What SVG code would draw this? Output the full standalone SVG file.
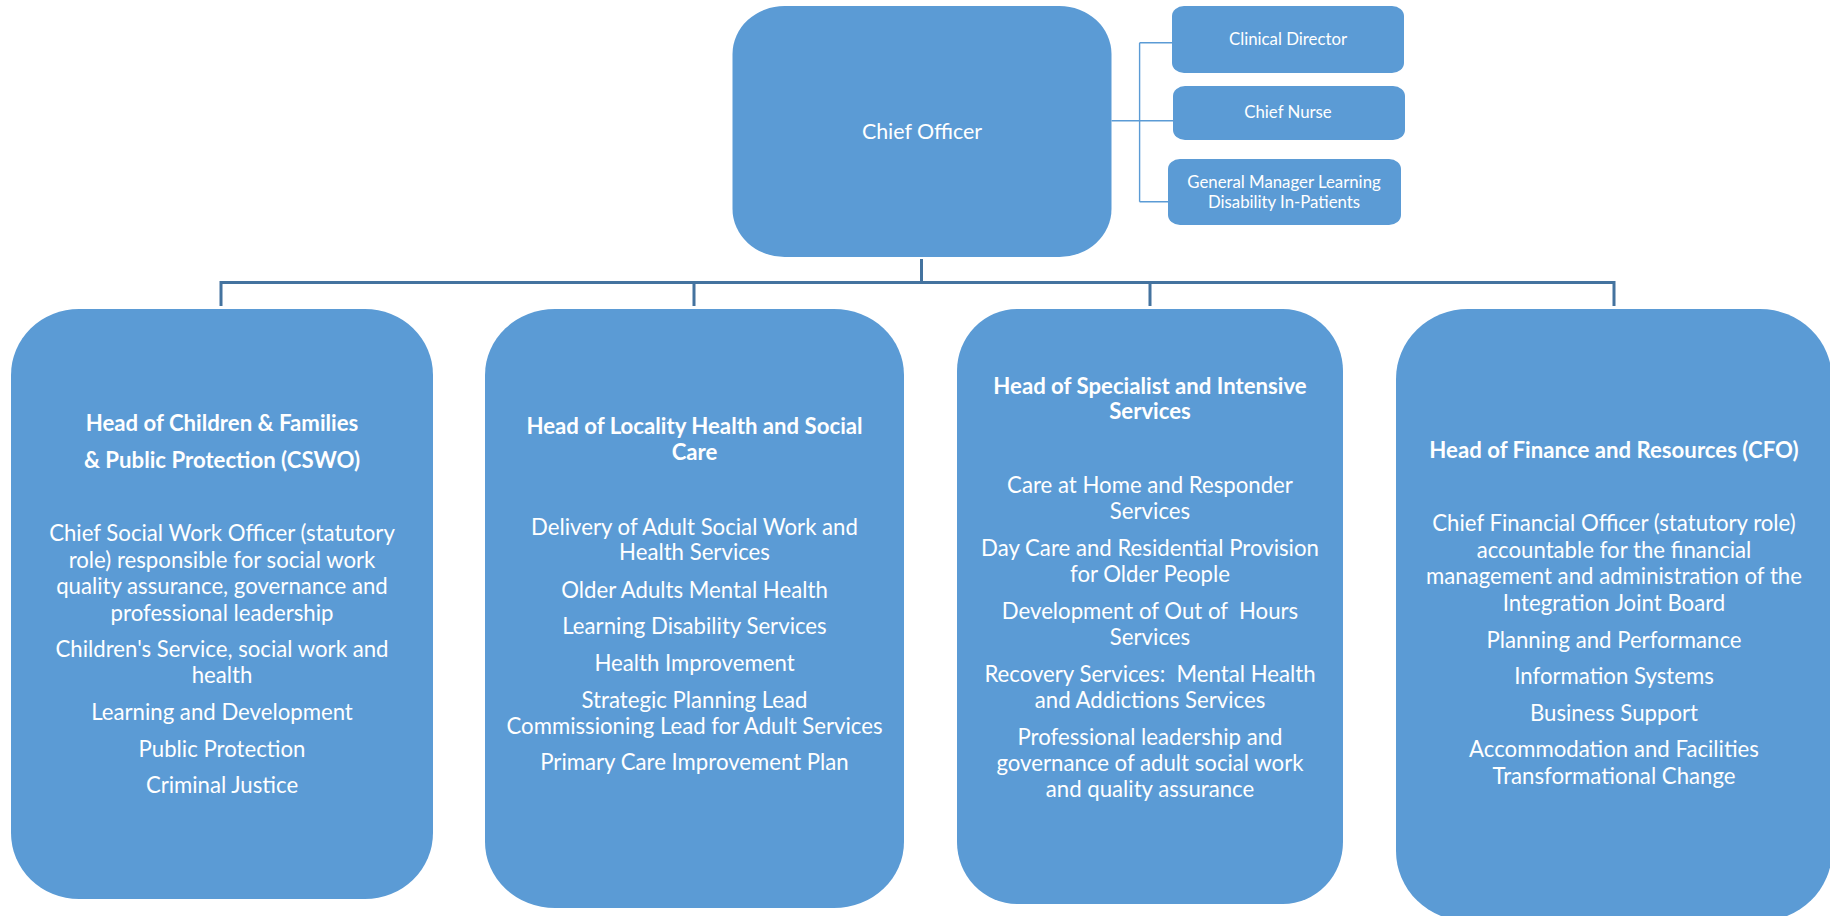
<svg xmlns="http://www.w3.org/2000/svg" width="1830" height="916" viewBox="0 0 1830 916">
  <style>
    .box { fill: #5B9BD5; }
    .main { stroke: #44739F; stroke-width: 3; fill: none; }
    .side { stroke: #5B9BD5; stroke-width: 1.4; fill: none; }
    .t { font-family: Lato, "Liberation Sans", sans-serif; fill: #FFFFFF; text-anchor: middle; }
    .body { font-size: 22.2px; }
    .title { font-size: 22.2px; font-weight: bold; }
    .top { font-size: 21.4px; }
    .small { font-size: 16.8px; }
  </style>
  <rect width="1830" height="916" fill="#FFFFFF"/>

  <!-- connectors -->
  <g id="connectors">
    <path class="main" d="M921.5 259 V282.5 M219.5 282.5 H1615.5 M221 282.5 V306 M694 282.5 V306 M1150 282.5 V306 M1614 282.5 V306"/>
    <path class="side" d="M1111.5 120.7 H1173 M1139.6 42.7 V201.7 M1139.6 42.7 H1172 M1139.6 201.7 H1168"/>
  </g>

  <!-- top level -->
  <g id="chief-officer">
    <rect class="box" x="732.5" y="6" width="379" height="251" rx="52" ry="48"/>
    <text class="t top" x="922" y="138.5">Chief Officer</text>
  </g>
  <g id="clinical-director">
    <rect class="box" x="1172" y="6" width="232" height="67" rx="12" ry="10"/>
    <text class="t small" x="1288" y="44.5">Clinical Director</text>
  </g>
  <g id="chief-nurse">
    <rect class="box" x="1173" y="86" width="232" height="54" rx="12" ry="10"/>
    <text class="t small" x="1288" y="118">Chief Nurse</text>
  </g>
  <g id="gm-learning-disability">
    <rect class="box" x="1168" y="159" width="233" height="66" rx="12" ry="10"/>
    <text class="t small" x="1284" y="187.5">General Manager Learning</text>
    <text class="t small" x="1284" y="208.3">Disability In-Patients</text>
  </g>

  <!-- heads of service -->
  <g id="head-children-families">
    <rect class="box" x="11" y="309" width="422" height="590" rx="68" ry="66"/>
    <text class="t title" x="222" y="430.5">Head of Children &amp; Families</text>
    <text class="t title" x="222" y="468">&amp; Public Protection (CSWO)</text>
    <text class="t body" x="222" y="540.6">Chief Social Work Officer (statutory</text>
    <text class="t body" x="222" y="567.5">role) responsible for social work</text>
    <text class="t body" x="222" y="594">quality assurance, governance and</text>
    <text class="t body" x="222" y="621">professional leadership</text>
    <text class="t body" x="222" y="657">Children's Service, social work and</text>
    <text class="t body" x="222" y="682.5">health</text>
    <text class="t body" x="222" y="720">Learning and Development</text>
    <text class="t body" x="222" y="757">Public Protection</text>
    <text class="t body" x="222" y="792.5">Criminal Justice</text>
  </g>

  <g id="head-locality">
    <rect class="box" x="485" y="309" width="419" height="599" rx="70" ry="66"/>
    <text class="t title" x="694.5" y="434.4">Head of Locality Health and Social</text>
    <text class="t title" x="694.5" y="460">Care</text>
    <text class="t body" x="694.5" y="534.7">Delivery of Adult Social Work and</text>
    <text class="t body" x="694.5" y="560">Health Services</text>
    <text class="t body" x="694.5" y="597.6">Older Adults Mental Health</text>
    <text class="t body" x="694.5" y="634">Learning Disability Services</text>
    <text class="t body" x="694.5" y="670.7">Health Improvement</text>
    <text class="t body" x="694.5" y="707.6">Strategic Planning Lead</text>
    <text class="t body" x="694.5" y="733.6">Commissioning Lead for Adult Services</text>
    <text class="t body" x="694.5" y="769.5">Primary Care Improvement Plan</text>
  </g>

  <g id="head-specialist">
    <rect class="box" x="957" y="309" width="386" height="595" rx="60" ry="62"/>
    <text class="t title" x="1150" y="393.5">Head of Specialist and Intensive</text>
    <text class="t title" x="1150" y="419">Services</text>
    <text class="t body" x="1150" y="492.6">Care at Home and Responder</text>
    <text class="t body" x="1150" y="518.6">Services</text>
    <text class="t body" x="1150" y="556">Day Care and Residential Provision</text>
    <text class="t body" x="1150" y="581.8">for Older People</text>
    <text class="t body" x="1150" y="619" xml:space="preserve">Development of Out of  Hours</text>
    <text class="t body" x="1150" y="645">Services</text>
    <text class="t body" x="1150" y="682" xml:space="preserve">Recovery Services:  Mental Health</text>
    <text class="t body" x="1150" y="708">and Addictions Services</text>
    <text class="t body" x="1150" y="745.4">Professional leadership and</text>
    <text class="t body" x="1150" y="771">governance of adult social work</text>
    <text class="t body" x="1150" y="797">and quality assurance</text>
  </g>

  <g id="head-finance">
    <rect class="box" x="1396" y="309" width="436" height="612" rx="72" ry="70"/>
    <text class="t title" x="1614" y="458.4">Head of Finance and Resources (CFO)</text>
    <text class="t body" x="1614" y="531">Chief Financial Officer (statutory role)</text>
    <text class="t body" x="1614" y="557.5">accountable for the financial</text>
    <text class="t body" x="1614" y="583.8">management and administration of the</text>
    <text class="t body" x="1614" y="610.5">Integration Joint Board</text>
    <text class="t body" x="1614" y="648">Planning and Performance</text>
    <text class="t body" x="1614" y="684.4">Information Systems</text>
    <text class="t body" x="1614" y="720.6">Business Support</text>
    <text class="t body" x="1614" y="757">Accommodation and Facilities</text>
    <text class="t body" x="1614" y="783.5">Transformational Change</text>
  </g>
</svg>
